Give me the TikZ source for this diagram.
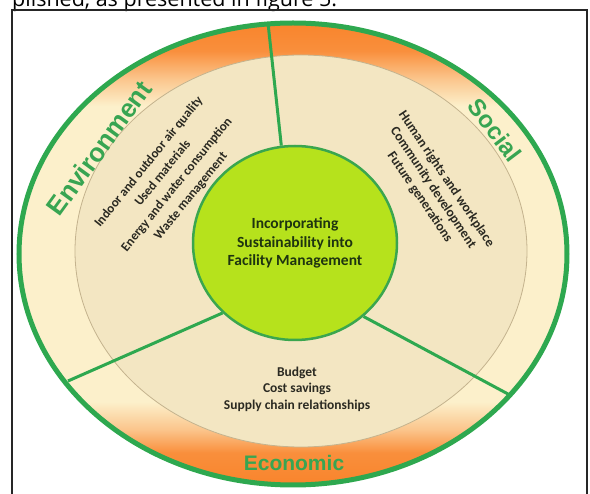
\documentclass[tikz,border=0pt]{standalone}
\usepackage{fontspec}
\setmainfont{Carlito}
\newfontfamily\headfont{Liberation Sans}
\newfontfamily\bodyfont{Open Sans}
\usetikzlibrary{shapes.geometric}

\definecolor{ringgreen}{HTML}{2EA84F}
\definecolor{labelgreen}{HTML}{38A552}
\definecolor{bandorange}{HTML}{F9842C}
\definecolor{bandcream}{HTML}{FCF0CB}
\definecolor{diskcream}{HTML}{F3E6C2}
\definecolor{diskedge}{HTML}{C4B38E}
\definecolor{corefill}{HTML}{B6E21C}
\definecolor{coreedge}{HTML}{3AA64E}
\definecolor{coretext}{HTML}{1E3410}
\definecolor{listtext}{HTML}{2B2A22}

\pgfdeclareverticalshading{ringband}{100bp}{color(0bp)=(bandorange); color(25bp)=(bandorange);
  color(28.5bp)=(bandorange!90!bandcream); color(31bp)=(bandorange!40!bandcream); color(34bp)=(bandcream);
  color(66bp)=(bandcream); color(69bp)=(bandorange!40!bandcream); color(72bp)=(bandorange!90!bandcream);
  color(75bp)=(bandorange); color(100bp)=(bandorange)}

\begin{document}
\begin{tikzpicture}[x=1pt, y=-1pt,
  ring/.style={line width=5pt, draw=ringgreen},
  divider/.style={line width=3pt, draw=ringgreen},
  pillar/.style={font=\headfont\bfseries\fontsize{26}{30}\selectfont, text=labelgreen, inner sep=0pt},
  items/.style={text=listtext, align=center, inner sep=0pt},
  core/.style={ellipse, fill=corefill, draw=coreedge, line width=2.5pt, minimum width=204pt,
    minimum height=194pt, inner sep=0pt, text=coretext, align=center,
    font=\bfseries\fontsize{15.5}{18.5}\selectfont}]
  \clip (0,0) rectangle (590,494);
  \node[font=\bodyfont\fontsize{21.5}{25}\selectfont, anchor=base west, inner sep=0pt] (caption) at (12,7) {plished, as presented in figure 5.};
  \draw[line width=1.2pt, draw=black!85] (12,10) rectangle (587,520);

  \shade[shading=ringband] (293,254) ellipse [x radius=274pt, y radius=231pt];
  \filldraw[fill=diskcream, draw=diskedge, line width=0.8pt] (301,251) ellipse [x radius=226pt, y radius=196pt];
  \draw[ring] (293,254) ellipse [x radius=274pt, y radius=231pt];

  \node[core] (core) at (295,243) {Incorporating\\Sustainability into\\Facility Management};
  \coordinate (rimtop) at (268,23);
  \coordinate (rimleft) at (68,381);
  \coordinate (rimright) at (508,394);
  \draw[divider] (core.98) -- (rimtop);
  \draw[divider] (core.224) -- (rimleft);
  \draw[divider] (core.313) -- (rimright);

  \node[pillar, rotate=54] (environment) at (99,148) {Environment};
  \node[pillar, rotate=-53, font=\headfont\bfseries\fontsize{24}{28}\selectfont] (social) at (495,130) {Social};
  \node[pillar, font=\headfont\bfseries\fontsize{21}{25}\selectfont] (economic) at (294,463) {Economic};

  \node[items, rotate=51, font=\bfseries\fontsize{13}{18}\selectfont] (envitems) at (170,179)
    {Indoor and outdoor air quality\\Used materials\\Energy and water consumption\\Waste management};
  \node[items, rotate=-56, font=\bfseries\fontsize{13.5}{16}\selectfont] (socitems) at (433,188)
    {Human rights and workplace\\Community development\\Future generations};
  \node[items, font=\bfseries\fontsize{13.5}{16.5}\selectfont] (ecoitems) at (297,389)
    {Budget\\Cost savings\\Supply chain relationships};
\end{tikzpicture}
\end{document}
